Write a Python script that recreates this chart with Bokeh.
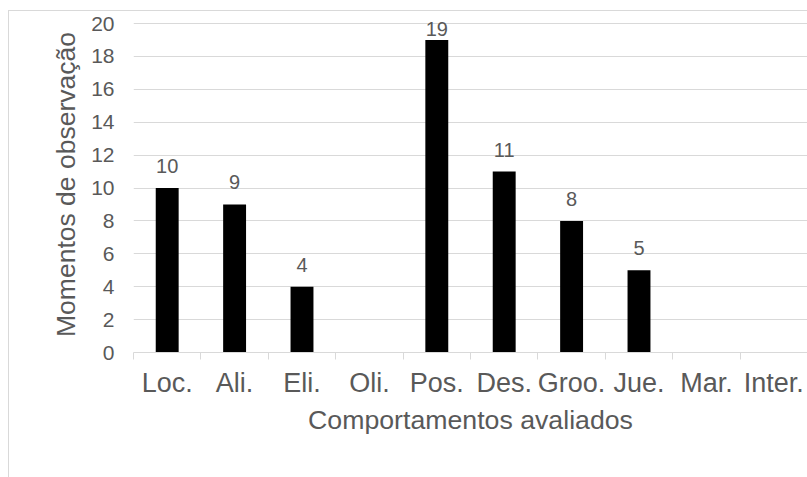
from bokeh.plotting import figure
from bokeh.models import Range1d, FixedTicker, ColumnDataSource, LabelSet
from bokeh.core.properties import value
from bokeh.embed import file_html
from bokeh.resources import INLINE

cats = ["Loc.", "Ali.", "Eli.", "Oli.", "Pos.", "Des.", "Groo.", "Jue.", "Mar.", "Inter."]
vals = [10, 9, 4, None, 19, 11, 8, 5, None, None]
y_ticks = [0, 2, 4, 6, 8, 10, 12, 14, 16, 18, 20]
x_title = "Comportamentos avaliados"
y_title = "Momentos de observação"

FONT = "Liberation Sans"
TXT = "#595959"
GRID = "#d9d9d9"

# layout (pixels): frame from y=16 to y=352, value 20 sits at y=23
FRAME_TOP, Y20, Y0 = 16, 23, 352
px_per_unit = (Y0 - Y20) / y_ticks[-1]
y_max = y_ticks[-1] + (Y20 - FRAME_TOP) / px_per_unit

LABEL_GAP = 15      # px between bar top and label baseline
LABEL_MIN_BASE = 35  # labels are kept inside the plot area (baseline not above this)

idx = list(range(len(cats)))
bar_vals = [float("nan") if v is None else v for v in vals]

p = figure(width=807, height=477, x_range=Range1d(-0.5, len(cats) - 0.5),
           y_range=Range1d(y_ticks[0], y_max),
           output_backend="svg", toolbar_location=None,
           min_border_left=133, min_border_right=0, min_border_top=FRAME_TOP,
           min_border_bottom=477 - Y0)
p.outline_line_color = None
p.background_fill_color = None
p.border_fill_color = None
p.styles = {
    "background": (
        f"linear-gradient({GRID},{GRID}) 8px 10px / 1px 100% no-repeat, "
        f"linear-gradient({GRID},{GRID}) 8px 10px / 100% 1px no-repeat, #ffffff"
    )
}

p.vbar(x=idx, top=bar_vals, width=0.34, fill_color="#000000", line_color=None)

lx, ly, lt, loff = [], [], [], []
for i, v in zip(idx, vals):
    if v is None:
        continue
    bar_top_px = Y0 - v * px_per_unit
    lx.append(i)
    ly.append(v)
    lt.append(str(v))
    loff.append(min(LABEL_GAP, bar_top_px - LABEL_MIN_BASE))
lab = ColumnDataSource(dict(x=lx, y=ly, t=lt, off=loff))
p.add_layout(LabelSet(x="x", y="y", text="t", source=lab, text_align="center",
                      text_baseline="alphabetic", y_offset="off", text_font=value(FONT),
                      text_font_size=value("20px"), text_color=value(TXT)))

# x axis
p.xgrid.visible = False
xa = p.xaxis[0]
xa.ticker = FixedTicker(ticks=idx, minor_ticks=[i - 0.5 for i in range(len(cats) + 1)])
xa.major_label_overrides = {i: c for i, c in zip(idx, cats)}
xa.axis_line_color = GRID
xa.axis_line_width = 1
xa.major_tick_in = 0
xa.major_tick_out = 0
xa.minor_tick_in = 0
xa.minor_tick_out = 7
xa.minor_tick_line_color = GRID
xa.major_label_text_font = FONT
xa.major_label_text_font_size = "27px"
xa.major_label_text_color = TXT
xa.major_label_standoff = 8
xa.axis_label = x_title
xa.axis_label_text_font = FONT
xa.axis_label_text_font_size = "26.7px"
xa.axis_label_text_font_style = "normal"
xa.axis_label_text_color = TXT
xa.axis_label_standoff = 4

# y axis
ya = p.yaxis[0]
ya.ticker = FixedTicker(ticks=y_ticks)
ya.axis_line_color = None
ya.major_tick_line_color = None
ya.major_tick_out = 0
ya.major_tick_in = 0
ya.minor_tick_line_color = None
ya.major_label_text_font = FONT
ya.major_label_text_font_size = "21px"
ya.major_label_text_color = TXT
ya.major_label_standoff = 19
ya.axis_label = y_title
ya.axis_label_text_font = FONT
ya.axis_label_text_font_size = "26.5px"
ya.axis_label_text_font_style = "normal"
ya.axis_label_text_color = TXT
ya.axis_label_standoff = 7
p.ygrid.grid_line_color = GRID
p.ygrid.grid_line_width = 1
p.ygrid.ticker = FixedTicker(ticks=y_ticks)

open("out.html", "w").write(file_html(p, INLINE))
